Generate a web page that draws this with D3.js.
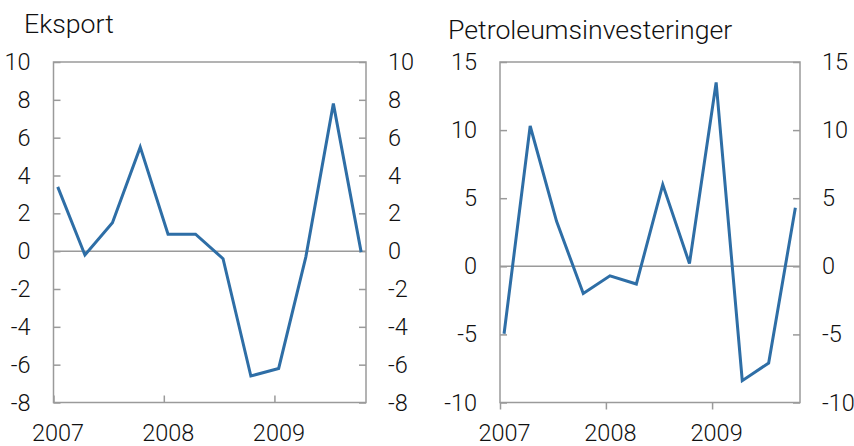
<!DOCTYPE html>
<html>
<head>
<meta charset="utf-8">
<script src="https://cdn.jsdelivr.net/npm/d3@7"></script>
<style>
  body { margin: 0; background: #fff; }
  svg { display: block; }
  text { font-family: Roboto, "Liberation Sans", sans-serif; font-weight: 300; fill: #111; }
</style>
</head>
<body>
<div id="chart"></div>
<script>
// quarterly observations, plotted mid-month of each quarter's first month
const quarters = [
  '2007-01-15', '2007-04-15', '2007-07-15', '2007-10-15',
  '2008-01-15', '2008-04-15', '2008-07-15', '2008-10-15',
  '2009-01-15', '2009-04-15', '2009-07-15', '2009-10-15'
]
const eksport = [3.4, -0.2, 1.5, 5.5, 0.9, 0.9, -0.4, -6.6, -6.2, -0.3, 7.8, -0.05]
const petroleum = [-4.95, 10.3, 3.3, -2.0, -0.7, -1.3, 6.0, 0.2, 13.5, -8.4, -7.1, 4.3]
const yearTicks = ['2007', '2008', '2009']
const eksportTicks = [-8, -6, -4, -2, 0, 2, 4, 6, 8, 10]
const petroleumTicks = [-10, -5, 0, 5, 10, 15]

const width = 854
const height = 446
const lineColor = '#2e6ea6'
const frameColor = '#9a9a9a'
const parse = d3.timeParse('%Y-%m-%d')
const xDomain = [new Date(2007, 0, 1), new Date(2009, 9, 31)]

const svg = d3.select('#chart')
  .append('svg')
  .attr('width', width)
  .attr('height', height)

function drawPanel(opts) {
  const { left, right, top, bottom, values, ticks, title, titleX, titleY, xTickDir } = opts

  const x = d3.scaleTime().domain(xDomain).range([left, right])
  const y = d3.scaleLinear().domain([ticks[0], ticks[ticks.length - 1]]).range([bottom, top])

  const g = svg.append('g')

  // zero line
  g.append('line')
    .attr('x1', left).attr('x2', right)
    .attr('y1', y(0)).attr('y2', y(0))
    .attr('stroke', frameColor).attr('stroke-width', 1.5)

  // y axes both sides, ticks pointing inward, plain hyphen for negatives
  const fmt = d => String(d)
  const yLeft = d3.axisLeft(y).tickValues(ticks).tickSize(-7).tickPadding(23).tickFormat(fmt)
  const yRight = d3.axisRight(y).tickValues(ticks).tickSize(-7).tickPadding(22).tickFormat(fmt)

  const gl = g.append('g').attr('transform', `translate(${left},0)`).call(yLeft)
  const gr = g.append('g').attr('transform', `translate(${right},0)`).call(yRight)

  // x axis
  const xAxis = d3.axisBottom(x)
    .tickValues(yearTicks.map(d => new Date(+d, 0, 1)))
    .tickSize(xTickDir * 7)
    .tickFormat(d3.timeFormat('%Y'))
  const gx = g.append('g').attr('transform', `translate(0,${bottom})`).call(xAxis)
  gx.selectAll('.tick text').attr('y', 38).attr('dy', 0).attr('dx', 4)

  for (const ax of [gl, gr, gx]) {
    ax.select('.domain').remove()
    ax.selectAll('.tick line').attr('stroke', frameColor).attr('stroke-width', 1.5)
    ax.selectAll('text').attr('font-size', 23.5).attr('fill', '#111')
      .style('font-family', 'Roboto, "Liberation Sans", sans-serif').style('font-weight', 300)
  }

  // frame
  g.append('rect')
    .attr('x', left).attr('y', top)
    .attr('width', right - left).attr('height', bottom - top)
    .attr('fill', 'none').attr('stroke', frameColor).attr('stroke-width', 1.5)

  // series
  const line = d3.line()
    .x((d, i) => x(parse(quarters[i])))
    .y(d => y(d))
  g.append('path')
    .datum(values)
    .attr('d', line)
    .attr('fill', 'none')
    .attr('stroke', lineColor)
    .attr('stroke-width', 3)
    .attr('stroke-linejoin', 'miter')

  g.append('text')
    .attr('x', titleX).attr('y', titleY)
    .attr('font-size', 26.7)
    .text(title)
}

drawPanel({
  left: 53.5, right: 366, top: 62, bottom: 402.5,
  values: eksport, ticks: eksportTicks,
  title: 'Eksport', titleX: 24, titleY: 33, xTickDir: -1
})

drawPanel({
  left: 500, right: 800, top: 62, bottom: 402.5,
  values: petroleum, ticks: petroleumTicks,
  title: 'Petroleumsinvesteringer', titleX: 448, titleY: 39, xTickDir: 1
})
</script>
</body>
</html>
